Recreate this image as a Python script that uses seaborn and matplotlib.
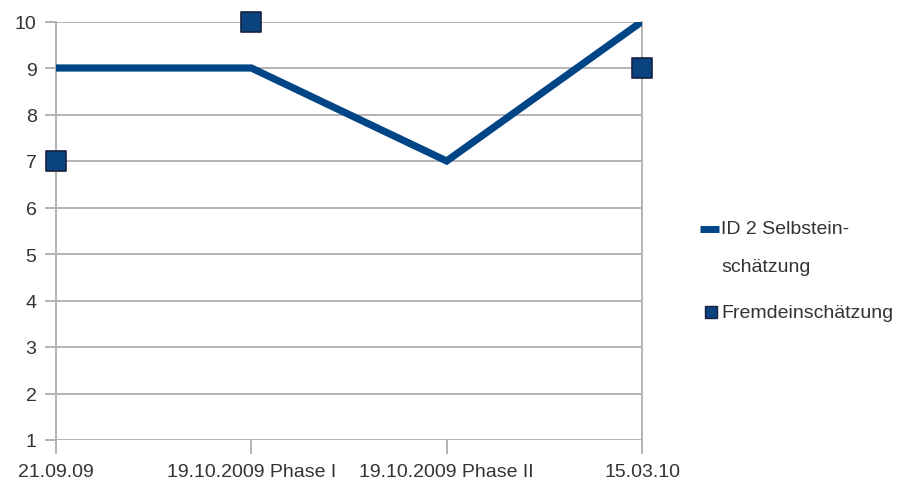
import numpy as np
import matplotlib
matplotlib.use("Agg")
import matplotlib.pyplot as plt
from matplotlib.lines import Line2D
import seaborn as sns

# Chart data
categories = ["21.09.09", "19.10.2009 Phase I", "19.10.2009 Phase II", "15.03.10"]
selbst = [9, 9, 7, 10]
fremd = [7, 10, np.nan, 9]
y_ticks = list(range(1, 11))
label_selbst = "ID 2 Selbstein-\nschätzung"
label_fremd = "Fremdeinschätzung"

line_color = "#004586"
marker_face = "#0b4381"
marker_edge = "#16223f"
grid_color = "#b3b3b3"
text_color = "#333333"
fs = 14

sns.set_theme(style="white")
plt.rcParams["font.family"] = ["Liberation Sans", "DejaVu Sans"]

fig = plt.figure(figsize=(9.06, 4.89), dpi=100)
ax = fig.add_axes([56 / 906, 1 - 441 / 489, (642 - 56) / 906, (441 - 22.5) / 489])

x = np.arange(len(categories))
sns.lineplot(x=x, y=selbst, ax=ax, color=line_color, linewidth=5.2,
             solid_joinstyle="miter", legend=False, zorder=3)
mask = ~np.isnan(np.array(fremd, dtype=float))
sns.scatterplot(x=x[mask], y=np.array(fremd)[mask], ax=ax, marker="s", s=190,
                color=marker_face, edgecolor=marker_edge, linewidth=1.2,
                legend=False, zorder=4, clip_on=False)

ax.set_xlim(0, len(categories) - 1)
ax.set_ylim(1, 10)
ax.set_yticks(y_ticks)
ax.set_yticklabels([str(v) for v in y_ticks])
ax.set_xticks(x)
ax.set_xticklabels(categories)
ax.grid(axis="y", color=grid_color, linewidth=1.4)
ax.set_axisbelow(True)

for side in ["left", "right"]:
    ax.spines[side].set_visible(True)
    ax.spines[side].set_color(grid_color)
    ax.spines[side].set_linewidth(1.4)
ax.spines["top"].set_visible(False)
ax.spines["bottom"].set_visible(False)

ax.tick_params(axis="y", which="major", length=8, width=1.4, color=grid_color,
               labelsize=fs, labelcolor=text_color, pad=6, left=True)
ax.tick_params(axis="x", which="major", length=10, width=1.4, color=grid_color,
               labelsize=fs, labelcolor=text_color, pad=6.5, bottom=True)

# Legend drawn at the right of the plot area
fig.add_artist(Line2D([700 / 906, 719 / 906], [1 - 230 / 489] * 2,
                      color=line_color, linewidth=5, solid_capstyle="butt"))
fig.text(721 / 906, 1 - 230 / 489, label_selbst.split("\n")[0], fontsize=fs,
         color=text_color, va="center", ha="left")
fig.text(721 / 906, 1 - 268 / 489, label_selbst.split("\n")[1], fontsize=fs,
         color=text_color, va="center", ha="left")
fig.add_artist(Line2D([711 / 906], [1 - 313 / 489], marker="s", markersize=9,
                      markerfacecolor=marker_face, markeredgecolor=marker_edge,
                      markeredgewidth=1.0, linestyle="none"))
fig.text(721 / 906, 1 - 313 / 489, label_fremd, fontsize=fs,
         color=text_color, va="center", ha="left")

fig.savefig("out.png", dpi=100, facecolor="white")
